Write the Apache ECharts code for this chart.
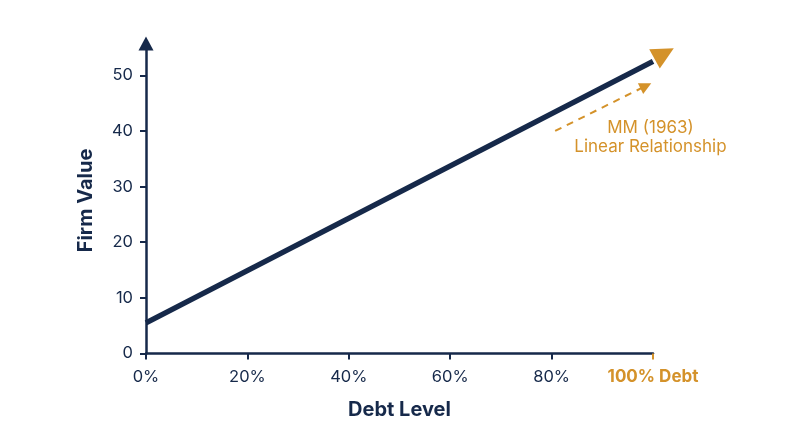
<!DOCTYPE html>
<html>
<head>
<meta charset="utf-8">
<script src="https://cdn.jsdelivr.net/npm/echarts@6/dist/echarts.min.js"></script>
<style>
html,body{margin:0;padding:0;background:#fff;}
#c{width:800px;height:447px;}
</style>
</head>
<body>
<div id="c"></div>
<script>
const debtLevels = [0, 100];
const firmValues = [5.5, 52.5];
const xTicks = [0, 20, 40, 60, 80];
const xTickLast = [100];
const yTicks = [0, 10, 20, 30, 40, 50];
const arrowHead = [[98.4, 52.0], [102.2, 53.9]];
const mmArrow = [[80.7, 40], [98.6, 48.1]];
const mmLabelPos = [99.5, 38.8];
const mmLabel = 'MM (1963)\nLinear Relationship';
const lastLabel = '100% Debt';

const NAVY = '#16294A';
const ORANGE = '#D4922A';
const FONT = 'Inter';

const chart = echarts.init(document.getElementById('c'), null, {renderer: 'canvas'});
chart.setOption({
  backgroundColor: '#fff',
  animation: false,
  textStyle: {fontFamily: FONT},
  grid: {left: 146, right: 147, top: 47.5, bottom: 93.5, containLabel: false},
  xAxis: [{
    type: 'value', min: 0, max: 100,
    name: 'Debt Level', nameLocation: 'middle', nameGap: 46,
    nameTextStyle: {color: NAVY, fontSize: 20, fontWeight: 'bold', fontFamily: FONT},
    axisLine: {show: true, lineStyle: {color: NAVY, width: 2.5}},
    axisTick: {show: true, length: 6, lineStyle: {color: NAVY, width: 2}, customValues: xTicks},
    axisLabel: {color: NAVY, fontSize: 16.5, margin: 15, fontFamily: FONT, customValues: xTicks, formatter: v => v + '%'},
    splitLine: {show: false}
  }, {
    type: 'value', min: 0, max: 100, position: 'bottom',
    axisLine: {show: false},
    axisTick: {show: true, length: 6, lineStyle: {color: ORANGE, width: 2}, customValues: xTickLast},
    axisLabel: {color: ORANGE, fontSize: 17, fontWeight: 'bold', margin: 15, fontFamily: FONT, customValues: xTickLast, formatter: () => lastLabel},
    splitLine: {show: false}
  }],
  yAxis: {
    type: 'value', min: 0, max: 55,
    name: 'Firm Value', nameLocation: 'middle', nameGap: 50,
    nameTextStyle: {color: NAVY, fontSize: 20, fontWeight: 'bold', fontFamily: FONT},
    axisLine: {show: true, symbol: ['none', 'triangle'], symbolSize: [15, 14], symbolOffset: [0, 4], lineStyle: {color: NAVY, width: 2.5}},
    axisTick: {show: true, length: 6, lineStyle: {color: NAVY, width: 2}, customValues: yTicks},
    axisLabel: {color: NAVY, fontSize: 16.5, margin: 13, fontFamily: FONT, customValues: yTicks},
    splitLine: {show: false}
  },
  series: [{
    type: 'line',
    data: debtLevels.map((d, i) => [d, firmValues[i]]),
    symbol: 'none',
    lineStyle: {color: NAVY, width: 5.5, cap: 'butt'},
    z: 3
  }, {
    type: 'lines',
    coordinateSystem: 'cartesian2d',
    clip: false,
    symbol: ['none', 'triangle'],
    symbolSize: [25, 22],
    lineStyle: {color: ORANGE, width: 0.1, opacity: 1},
    data: [{coords: arrowHead}],
    z: 4
  }, {
    type: 'lines',
    coordinateSystem: 'cartesian2d',
    clip: false,
    symbol: ['none', 'triangle'],
    symbolSize: [14, 12],
    lineStyle: {color: ORANGE, width: 2, type: [7, 6], opacity: 1},
    data: [{coords: mmArrow}],
    z: 4
  }, {
    type: 'scatter',
    symbolSize: 0,
    clip: false,
    itemStyle: {opacity: 1},
    data: [mmLabelPos],
    label: {show: true, position: 'inside', formatter: mmLabel, color: ORANGE, opacity: 1, fontSize: 17, lineHeight: 19, fontFamily: FONT, align: 'center'},
    z: 4
  }]
});
</script>
</body>
</html>
